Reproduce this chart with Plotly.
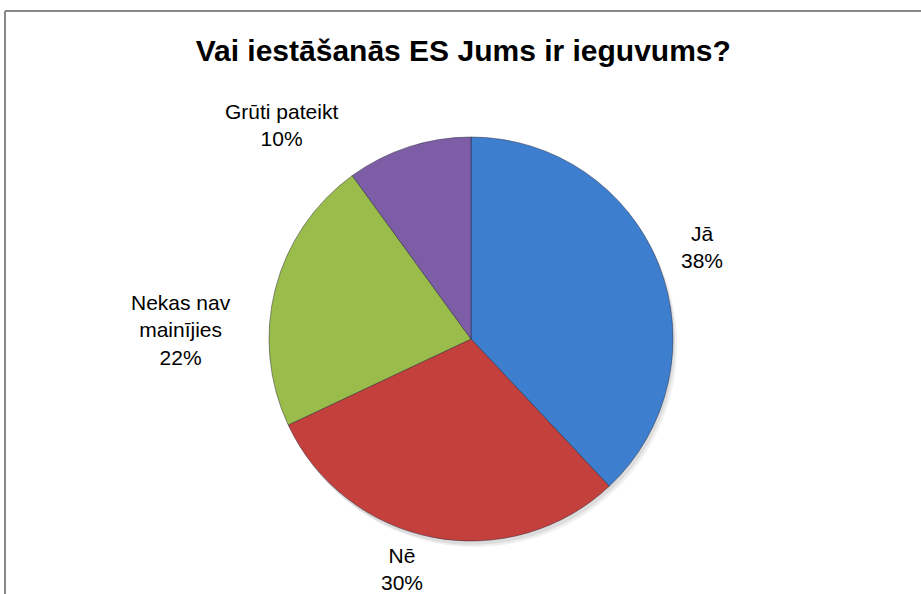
import plotly.graph_objects as go

title = "Vai iestāšanās ES Jums ir ieguvums?"
labels = ["Jā", "Nē", "Nekas nav<br>mainījies", "Grūti pateikt"]
values = [38, 30, 22, 10]
colors = ["#3D7ECF", "#C4403D", "#9ABC4B", "#7D5EA6"]
# label anchor points (paper coords, centre of text block) for outside data labels
label_pos = [(0.762, 0.585), (0.436, 0.042), (0.196, 0.444), (0.306, 0.789)]

W, H = 921, 594
cx, cy, r = 471, 339, 202
FONT = "Liberation Sans Narrow, Arial Narrow, Liberation Sans, Arial"

fig = go.Figure()
fig.add_trace(go.Pie(
    labels=labels, values=values, sort=False, direction="clockwise", rotation=0,
    marker=dict(colors=colors, line=dict(color="rgba(30,30,50,0.45)", width=1)),
    textinfo="none", hoverinfo="label+percent", showlegend=False,
    domain=dict(x=[(cx - r) / W, (cx + r) / W], y=[(H - cy - r) / H, (H - cy + r) / H]),
))

total = sum(values)
for lab, v, (x, y) in zip(labels, values, label_pos):
    fig.add_annotation(
        x=x, y=y, xref="paper", yref="paper", xanchor="center", yanchor="middle",
        showarrow=False, text=f"{lab}<br>{round(100 * v / total)}%", align="center",
        font=dict(family=FONT, size=21, color="#000"),
    )

# soft shadow below the pie
shadow = [
    dict(type="circle", xref="paper", yref="paper", layer="below",
         x0=(cx - r + d) / W, x1=(cx + r + d) / W,
         y0=(H - cy - r - d - 2) / H, y1=(H - cy + r - d - 2) / H,
         fillcolor=f"rgba(0,0,0,{a})", line=dict(width=0))
    for d, a in [(4, 0.06), (2, 0.08)]
]

fig.update_layout(
    width=W, height=H, margin=dict(l=0, r=0, t=0, b=0),
    paper_bgcolor="white", plot_bgcolor="white",
    title=dict(text=f"<b>{title}</b>", x=0.503, xanchor="center", y=1 - 50 / H, yanchor="middle",
               font=dict(family=FONT, size=30, color="#000")),
    shapes=shadow + [
        dict(type="line", xref="paper", yref="paper", x0=5 / W, x1=1, y0=1 - 11 / H, y1=1 - 11 / H,
             line=dict(color="#888888", width=2)),
        dict(type="line", xref="paper", yref="paper", x0=5 / W, x1=5 / W, y0=0, y1=1 - 11 / H,
             line=dict(color="#888888", width=2)),
    ],
)

fig.write_html("out.html", config={"displayModeBar": False},
               post_script="document.body.style.margin='0px';")
